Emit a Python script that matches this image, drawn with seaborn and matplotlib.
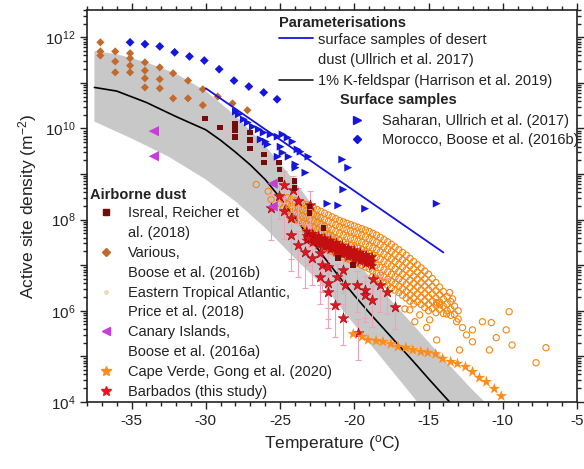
import numpy as np
import matplotlib
matplotlib.use("Agg")
from matplotlib import pyplot as plt
from matplotlib import ticker
from matplotlib.lines import Line2D
import seaborn as sns

# ---- data (values are log10 of active site density in m-2) ----
# Harrison et al. (2019), 1% K-feldspar, and its uncertainty band
harrison_T = [-37.5, -36, -34, -32, -30, -29, -28, -27, -26, -25, -24, -23, -22,
              -21, -20, -19, -18, -17, -16, -15, -14, -13.3]
harrison_log = [10.90, 10.82, 10.57, 10.26, 9.97, 9.74, 9.48, 9.20, 8.88, 8.48, 8.05,
                7.60, 7.16, 6.74, 6.34, 5.96, 5.60, 5.24, 4.88, 4.51, 4.15, 3.90]
band_hi_T = [-37.5, -36, -34, -32, -30, -28, -26, -24, -22, -20, -18, -16, -14, -12, -10.9]
band_hi_log = [11.70, 11.63, 11.45, 11.20, 10.82, 10.28, 9.62, 8.84, 7.95, 7.13, 6.40,
               5.68, 4.95, 4.25, 3.90]
band_lo_T = [-37.5, -35, -32.5, -30, -28, -26, -24, -22, -20, -18, -16, -15.5]
band_lo_log = [10.15, 9.78, 9.38, 8.88, 8.40, 7.82, 7.15, 6.52, 5.70, 4.90, 4.10, 3.90]

# Ullrich et al. (2017) desert dust parameterisation
ullrich_T = [-30, -14]
ullrich_log = [10.88, 7.28]

# Saharan, Ullrich et al. (2017)
saharan_T = [-27.97, -27.77, -27.44, -27.17, -26.83, -26.43, -26.10, -25.63, -25.16, -24.83,
             -24.49, -24.16, -23.82, -23.62, -23.09, -24.96, -25.96, -26.30, -25.83, -25.16,
             -24.83, -24.42, -23.96, -23.96, -23.29, -20.81, -20.41, -20.74, -21.81, -21.08,
             -19.27, -14.45]
saharan_log = [10.37, 10.31, 10.20, 10.13, 10.04, 9.98, 9.91, 9.87, 9.82, 9.87,
               9.80, 9.71, 9.54, 9.49, 9.38, 9.60, 9.71, 9.76, 9.65, 9.38,
               9.47, 9.38, 9.21, 9.14, 9.03, 9.32, 9.14, 8.66, 8.35, 8.31,
               8.24, 8.35]

# Morocco, Boose et al. (2016b)
morocco_T = [-35.1, -34.1, -33.1, -32.1, -31.1, -30.1, -29.1, -28.1, -27.1, -26.1, -25.2]
morocco_log = [11.89, 11.85, 11.80, 11.67, 11.58, 11.49, 11.30, 11.05, 10.92, 10.79, 10.64]

# Various, Boose et al. (2016b)
various_T = [-37.1, -37.1, -37.1, -36.1, -36.1, -36.1, -35.1, -35.1, -35.1, -35.1,
             -34.1, -34.1, -34.1, -34.1, -33.1, -33.1, -33.1, -32.2, -32.2, -31.2,
             -31.2, -30.2, -30.2, -29.2, -28.2, -27.2]
various_log = [11.89, 11.69, 11.60, 11.69, 11.47, 11.23, 11.65, 11.54, 11.38, 11.23,
               11.45, 11.27, 11.10, 10.90, 11.34, 11.08, 10.88, 11.21, 10.66, 11.05,
               10.66, 10.86, 10.51, 10.70, 10.55, 10.40]

# Isreal, Reicher et al. (2018)
reicher_T = [-30.05, -29.04, -28.04, -28.04, -28.04, -27.03, -27.03, -27.03, -26.10, -26.10,
             -25.09, -25.03, -24.96, -24.02, -24.02, -23.02, -23.02, -22.08, -21.08, -20.07]
reicher_log = [10.22, 10.02, 10.09, 9.96, 9.82, 9.91, 9.74, 9.56, 9.43, 9.25,
               9.25, 9.10, 8.88, 8.84, 8.70, 8.29, 8.15, 7.82, 7.16, 7.01]

# Eastern Tropical Atlantic, Price et al. (2018)
price_T = [-26.6, -25.8, -25.6,
           -25.0, -25.0,
           -24.75, -24.75,
           -24.5, -24.5, -24.5,
           -24.25, -24.25, -24.25, -24.25,
           -24.0, -24.0, -24.0, -24.0,
           -23.75, -23.75, -23.75, -23.75,
           -23.5, -23.5, -23.5, -23.5,
           -23.25, -23.25, -23.25, -23.25, -23.25,
           -23.0, -23.0, -23.0, -23.0, -23.0,
           -22.75, -22.75, -22.75, -22.75, -22.75,
           -22.5, -22.5, -22.5, -22.5, -22.5,
           -22.25, -22.25, -22.25, -22.25, -22.25, -22.25,
           -22.0, -22.0, -22.0, -22.0, -22.0, -22.0,
           -21.75, -21.75, -21.75, -21.75, -21.75, -21.75,
           -21.5, -21.5, -21.5, -21.5, -21.5, -21.5,
           -21.25, -21.25, -21.25, -21.25, -21.25, -21.25,
           -21.0, -21.0, -21.0, -21.0, -21.0, -21.0,
           -20.75, -20.75, -20.75, -20.75, -20.75, -20.75,
           -20.5, -20.5, -20.5, -20.5, -20.5, -20.5,
           -20.25, -20.25, -20.25, -20.25, -20.25, -20.25,
           -20.0, -20.0, -20.0, -20.0, -20.0, -20.0,
           -19.75, -19.75, -19.75, -19.75, -19.75, -19.75,
           -19.5, -19.5, -19.5, -19.5, -19.5, -19.5,
           -19.25, -19.25, -19.25, -19.25, -19.25, -19.25,
           -19.0, -19.0, -19.0, -19.0, -19.0, -19.0,
           -18.75, -18.75, -18.75, -18.75, -18.75, -18.75, -18.75,
           -18.5, -18.5, -18.5, -18.5, -18.5, -18.5, -18.5,
           -18.25, -18.25, -18.25, -18.25, -18.25, -18.25, -18.25,
           -18.0, -18.0, -18.0, -18.0, -18.0, -18.0, -18.0,
           -17.75, -17.75, -17.75, -17.75, -17.75, -17.75, -17.75,
           -17.5, -17.5, -17.5, -17.5, -17.5, -17.5, -17.5,
           -17.25, -17.25, -17.25, -17.25, -17.25, -17.25, -17.25,
           -17.0, -17.0, -17.0, -17.0, -17.0, -17.0, -17.0,
           -16.75, -16.75, -16.75, -16.75, -16.75, -16.75, -16.75,
           -16.5, -16.5, -16.5, -16.5, -16.5, -16.5, -16.5,
           -16.25, -16.25, -16.25, -16.25, -16.25, -16.25, -16.25,
           -16.0, -16.0, -16.0, -16.0, -16.0, -16.0, -16.0,
           -15.75, -15.75, -15.75, -15.75, -15.75, -15.75,
           -15.5, -15.5, -15.5, -15.5, -15.5, -15.5,
           -15.25, -15.25, -15.25, -15.25, -15.25, -15.25,
           -15.0, -15.0, -15.0, -15.0, -15.0, -15.0,
           -14.75, -14.75, -14.75, -14.75, -14.75,
           -14.5, -14.5, -14.5, -14.5, -14.5,
           -14.25, -14.25, -14.25, -14.25,
           -14.0, -14.0, -14.0, -14.0,
           -13.75, -13.75, -13.75,
           -13.5, -13.5, -13.5,
           -13.25, -13.25,
           -13.0, -13.0,
           -13.58, -13.38, -14.25, -13.78, -13.11, -12.71, -12.04, -11.37, -10.77, -14.45,
           -12.44, -12.04, -10.44, -12.91, -10.90, -16.26, -15.59, -14.92, -15.12, -15.92,
           -16.59, -9.37, -7.76, -7.09, -9.77, -9.57, -14.45]
price_log = [8.77, 8.62, 8.44,
             8.50, 8.35,
             8.42, 8.27,
             8.48, 8.33, 8.20,
             8.45, 8.30, 8.16, 8.02,
             8.42, 8.28, 8.14, 8.00,
             8.39, 8.25, 8.11, 7.96,
             8.36, 8.22, 8.08, 7.92,
             8.33, 8.19, 8.05, 7.89, 7.74,
             8.30, 8.16, 8.02, 7.86, 7.70,
             8.26, 8.12, 7.98, 7.82, 7.66,
             8.22, 8.08, 7.94, 7.78, 7.62,
             8.18, 8.04, 7.90, 7.74, 7.58, 7.44,
             8.14, 8.00, 7.86, 7.70, 7.54, 7.40,
             8.10, 7.96, 7.82, 7.66, 7.50, 7.35,
             8.06, 7.92, 7.78, 7.62, 7.46, 7.30,
             8.02, 7.88, 7.74, 7.58, 7.42, 7.26,
             7.98, 7.84, 7.70, 7.54, 7.38, 7.22,
             7.95, 7.81, 7.66, 7.50, 7.34, 7.18,
             7.92, 7.78, 7.62, 7.46, 7.30, 7.14,
             7.89, 7.75, 7.59, 7.43, 7.27, 7.11,
             7.86, 7.72, 7.56, 7.40, 7.24, 7.08,
             7.83, 7.69, 7.53, 7.37, 7.21, 7.04,
             7.80, 7.66, 7.50, 7.34, 7.18, 7.00,
             7.77, 7.62, 7.46, 7.30, 7.14, 6.96,
             7.74, 7.58, 7.42, 7.26, 7.10, 6.92,
             7.70, 7.54, 7.38, 7.22, 7.05, 6.87, 6.76,
             7.66, 7.50, 7.34, 7.18, 7.00, 6.82, 6.70,
             7.61, 7.45, 7.29, 7.13, 6.95, 6.78, 6.66,
             7.56, 7.40, 7.24, 7.08, 6.90, 6.74, 6.62,
             7.51, 7.35, 7.19, 7.03, 6.85, 6.69, 6.56,
             7.46, 7.30, 7.14, 6.98, 6.80, 6.64, 6.50,
             7.40, 7.24, 7.08, 6.92, 6.75, 6.59, 6.45,
             7.34, 7.18, 7.02, 6.86, 6.70, 6.54, 6.40,
             7.28, 7.12, 6.96, 6.80, 6.64, 6.48, 6.34,
             7.22, 7.06, 6.90, 6.74, 6.58, 6.42, 6.28,
             7.15, 6.99, 6.83, 6.67, 6.51, 6.35, 6.21,
             7.08, 6.92, 6.76, 6.60, 6.44, 6.28, 6.15,
             7.01, 6.85, 6.69, 6.53, 6.37, 6.20,
             6.94, 6.78, 6.62, 6.46, 6.30, 6.14,
             6.87, 6.70, 6.54, 6.38, 6.22, 6.07,
             6.80, 6.62, 6.46, 6.30, 6.14, 6.00,
             6.71, 6.53, 6.37, 6.21, 6.05,
             6.62, 6.44, 6.28, 6.12, 5.96,
             6.52, 6.35, 6.19, 6.03,
             6.42, 6.26, 6.10, 5.94,
             6.31, 6.15, 6.00,
             6.20, 6.04, 5.90,
             6.10, 5.92,
             6.00, 5.82,
             6.40, 6.26, 6.13, 5.93, 5.76, 5.63, 5.58, 5.76, 5.74, 5.36,
             5.47, 5.32, 5.41, 5.14, 5.14, 6.02, 5.91, 5.80, 5.63, 5.76,
             6.04, 5.25, 4.86, 5.19, 5.58, 5.98, 6.18]

# Canary Islands, Boose et al. (2016a)
canary_T = [-33.5, -33.5, -25.5, -25.5]
canary_log = [9.94, 9.39, 8.79, 8.29]

# Cape Verde, Gong et al. (2020)
capeverde_T = [-20.07, -19.47, -19.07, -18.53, -18.07, -17.53, -17.06, -16.53, -16.06, -15.52,
               -15.05, -14.52, -14.05, -13.51, -13.05, -12.51, -12.04, -11.57, -11.10, -10.57,
               -10.10]
capeverde_log = [5.49, 5.43, 5.36, 5.34, 5.32, 5.27, 5.21, 5.19, 5.14, 5.10,
                 5.08, 5.05, 4.95, 4.88, 4.84, 4.77, 4.66, 4.53, 4.44, 4.29,
                 4.13]

# Barbados (this study): single filters with error bars
barbados_T = [-25.63, -24.76, -23.82, -22.95, -24.16, -24.29, -24.29, -23.76, -23.15, -23.29,
              -22.82, -22.28, -22.15, -21.75, -22.28, -21.75, -21.14, -20.74, -20.61, -19.81,
              -19.27, -19.27, -18.74, -18.27, -17.80, -18.80, -21.75, -21.28, -20.74, -17.26,
              -19.74, -24.76, -25.10]
barbados_log = [8.26, 8.18, 8.40, 8.33, 8.66, 8.04, 7.67, 7.45, 7.60, 7.30,
                7.16, 7.27, 7.01, 6.95, 6.75, 6.62, 6.73, 6.90, 6.57, 6.57,
                6.46, 6.35, 6.70, 6.57, 6.42, 6.24, 6.42, 6.13, 5.85, 6.09,
                5.52, 8.77, 8.51]
barbados_err_lo = [0.7, 0.6, 0.5, 0.6, 0.5, 0.9, 0.8, 0.7, 0.6, 0.8,
                   0.6, 0.7, 0.6, 0.9, 0.6, 0.8, 0.7, 0.5, 0.8, 0.6,
                   0.7, 0.5, 0.5, 0.6, 0.5, 0.6, 0.8, 0.7, 0.6, 0.5,
                   0.6, 0.4, 0.5]
barbados_err_hi = [0.3, 0.3, 0.3, 0.3, 0.3, 0.4, 0.4, 0.3, 0.3, 0.4,
                   0.3, 0.3, 0.3, 0.4, 0.3, 0.4, 0.3, 0.3, 0.4, 0.3,
                   0.3, 0.3, 0.3, 0.3, 0.3, 0.3, 0.4, 0.3, 0.3, 0.3,
                   0.3, 0.3, 0.3]
# Barbados continuous measurements (dense red streak)
barbados_dense_T = [-23.2, -23.2, -23.2, -23.0, -23.0, -22.8, -22.8, -22.8, -22.6, -22.6,
                    -22.4, -22.4, -22.4, -22.2, -22.2, -22.0, -22.0, -22.0, -21.8, -21.8,
                    -21.6, -21.6, -21.6, -21.4, -21.4, -21.2, -21.2, -21.2, -21.0, -21.0,
                    -20.8, -20.8, -20.8, -20.6, -20.6, -20.4, -20.4, -20.4, -20.2, -20.2,
                    -20.0, -20.0, -20.0, -19.8, -19.8, -19.6, -19.6, -19.6, -19.4, -19.4,
                    -19.2, -19.2, -19.2, -19.0, -19.0, -18.8, -18.8, -18.8]
barbados_dense_log = [7.74, 7.64, 7.54, 7.67, 7.57, 7.69, 7.59, 7.49, 7.62, 7.52,
                      7.64, 7.54, 7.44, 7.57, 7.47, 7.59, 7.49, 7.39, 7.52, 7.42,
                      7.54, 7.44, 7.34, 7.47, 7.37, 7.49, 7.39, 7.29, 7.42, 7.32,
                      7.43, 7.33, 7.23, 7.36, 7.26, 7.38, 7.28, 7.18, 7.31, 7.21,
                      7.33, 7.23, 7.13, 7.26, 7.16, 7.28, 7.18, 7.08, 7.21, 7.11,
                      7.23, 7.13, 7.03, 7.16, 7.06, 7.18, 7.08, 6.98]

# ---- colours ----
c_blue = "#1515e0"
c_various = "#c2692b"
c_reicher = "#760b0b"
c_price = "#f5860f"
c_canary = "#c43fd6"
c_cape = "#ff8b1a"
c_barb = "#e3161e"
c_err = "#f2a2b6"


def ns(vals):
    return np.power(10.0, np.asarray(vals))


sns.set_theme(style="ticks")
plt.rcParams["font.family"] = ["Liberation Sans", "DejaVu Sans"]
plt.rcParams["mathtext.fontset"] = "custom"
plt.rcParams["mathtext.rm"] = "Liberation Sans"
plt.rcParams["mathtext.it"] = "Liberation Sans:italic"
plt.rcParams["axes.unicode_minus"] = False

fig, ax = plt.subplots(figsize=(5.84, 4.69), dpi=100)
fig.subplots_adjust(left=0.149, right=0.988, top=0.979, bottom=0.143)
ax.set_yscale("log")

# uncertainty band + parameterisations
band_x = band_hi_T + band_lo_T[::-1]
band_y = list(ns(band_hi_log)) + list(ns(band_lo_log)[::-1])
ax.fill(band_x, band_y, color="#c8c8c8", lw=0, zorder=1)
sns.lineplot(x=harrison_T, y=ns(harrison_log), color="black", lw=1.2, sort=False,
             ax=ax, zorder=2)

# surface samples
sns.scatterplot(x=morocco_T, y=ns(morocco_log), marker="D", s=20, color=c_blue,
                edgecolor="none", ax=ax, zorder=5)
sns.scatterplot(x=saharan_T, y=ns(saharan_log), marker=">", s=32, color=c_blue,
                edgecolor="none", ax=ax, zorder=5)
sns.lineplot(x=ullrich_T, y=ns(ullrich_log), color=c_blue, lw=1.3, sort=False,
             ax=ax, zorder=6)

# airborne dust
sns.scatterplot(x=various_T, y=ns(various_log), marker="D", s=17, color=c_various,
                edgecolor="none", ax=ax, zorder=5)
sns.scatterplot(x=price_T, y=ns(price_log), marker="o", s=20, color=c_price,
                facecolors="none", edgecolor=c_price, linewidth=0.8, ax=ax, zorder=3)
ax.errorbar(barbados_T, ns(barbados_log),
            yerr=[ns(barbados_log) - ns(np.array(barbados_log) - np.array(barbados_err_lo)),
                  ns(np.array(barbados_log) + np.array(barbados_err_hi)) - ns(barbados_log)],
            fmt="none", ecolor=c_err, elinewidth=0.8, capsize=2, capthick=0.8, zorder=3)
sns.scatterplot(x=barbados_dense_T, y=ns(barbados_dense_log), marker="*", s=70,
                color="#c40f10", edgecolor="none", ax=ax, zorder=4)
sns.scatterplot(x=barbados_T, y=ns(barbados_log), marker="*", s=65, color=c_barb,
                edgecolor="#a00010", linewidth=0.4, ax=ax, zorder=6)
sns.scatterplot(x=reicher_T, y=ns(reicher_log), marker="s", s=17, color=c_reicher,
                edgecolor="none", ax=ax, zorder=7)
sns.scatterplot(x=canary_T, y=ns(canary_log), marker="<", s=55, color=c_canary,
                edgecolor="none", ax=ax, zorder=7)
sns.scatterplot(x=capeverde_T, y=ns(capeverde_log), marker="*", s=75, color=c_cape,
                edgecolor="none", ax=ax, zorder=7)

# axes
ax.set_xlim(-38, -5)
ax.set_ylim(1e4, 4e12)
ax.xaxis.set_major_locator(ticker.MultipleLocator(5))
ax.xaxis.set_minor_locator(ticker.MultipleLocator(1))
ax.yaxis.set_major_locator(ticker.LogLocator(base=10, numticks=20))
ax.yaxis.set_minor_locator(ticker.LogLocator(base=10, subs=np.arange(2, 10), numticks=20))
ax.yaxis.set_minor_formatter(ticker.NullFormatter())


def ylab(v, pos):
    e = int(round(np.log10(v)))
    return r"$10^{%d}$" % e if e % 2 == 0 else ""


ax.yaxis.set_major_formatter(ticker.FuncFormatter(ylab))
ax.tick_params(which="both", direction="out", top=True, right=True, color="#222222",
               width=1, labelsize=11, labelcolor="#222222")
ax.tick_params(which="major", length=5)
ax.tick_params(which="minor", length=3)
for sp in ax.spines.values():
    sp.set_linewidth(1.2)
    sp.set_color("#222222")
ax.set_xlabel("Temperature ($\\mathregular{^o}$C)", fontsize=12.5, color="#222222")
ax.set_ylabel("Active site density (m$^{-2}$)", fontsize=12.5, color="#222222")

# legends
blank = Line2D([], [], linestyle="none", marker="")
fs = 10.5
ax.text(0.392, 0.967, "Parameterisations", transform=ax.transAxes, fontsize=fs,
        fontweight="bold", va="center", ha="left", color="#222222")
leg1 = ax.legend([Line2D([], [], color=c_blue, lw=1.3), blank, Line2D([], [], color="k", lw=1.2)],
                 ["surface samples of desert", "dust (Ullrich et al. 2017)",
                  "1% K-feldspar (Harrison et al. 2019)"],
                 loc="upper left", bbox_to_anchor=(0.392, 0.942), frameon=False, fontsize=fs,
                 handlelength=2.35, handletextpad=0.35, labelspacing=0.46, borderpad=0,
                 borderaxespad=0)
ax.add_artist(leg1)

ax.text(0.516, 0.770, "Surface samples", transform=ax.transAxes, fontsize=fs,
        fontweight="bold", va="center", ha="left", color="#222222")
leg2 = ax.legend([Line2D([], [], ls="none", marker=">", ms=5.5, color=c_blue),
                  Line2D([], [], ls="none", marker="D", ms=4.2, color=c_blue)],
                 ["Saharan, Ullrich et al. (2017)", "Morocco, Boose et al. (2016b)"],
                 loc="upper left", bbox_to_anchor=(0.537, 0.735), frameon=False, fontsize=fs,
                 handlelength=1.0, handletextpad=1.2, labelspacing=0.35, borderpad=0,
                 borderaxespad=0)
ax.add_artist(leg2)

ax.text(0.006, 0.528, "Airborne dust", transform=ax.transAxes, fontsize=fs,
        fontweight="bold", va="center", ha="left", color="#222222")
h3 = [Line2D([], [], ls="none", marker="s", ms=4, color=c_reicher), blank,
      Line2D([], [], ls="none", marker="D", ms=4, color=c_various), blank,
      Line2D([], [], ls="none", marker="o", ms=2.5, color="#efd9b8"), blank,
      Line2D([], [], ls="none", marker="<", ms=6, color=c_canary), blank,
      Line2D([], [], ls="none", marker="*", ms=7, color=c_cape),
      Line2D([], [], ls="none", marker="*", ms=7, color=c_barb)]
l3 = ["Isreal, Reicher et", "al. (2018)", "Various,", "Boose et al. (2016b)",
      "Eastern Tropical Atlantic,", "Price et al. (2018)", "Canary Islands,",
      "Boose et al. (2016a)", "Cape Verde, Gong et al. (2020)", "Barbados (this study)"]
leg3 = ax.legend(h3, l3, loc="upper left", bbox_to_anchor=(0.0245, 0.499), frameon=False,
                 fontsize=fs, handlelength=1.0, handletextpad=1.0, labelspacing=0.40,
                 borderpad=0, borderaxespad=0)
for t in leg1.get_texts() + leg2.get_texts() + leg3.get_texts():
    t.set_color("#222222")

fig.savefig("out.png", dpi=100)
plt.close(fig)
